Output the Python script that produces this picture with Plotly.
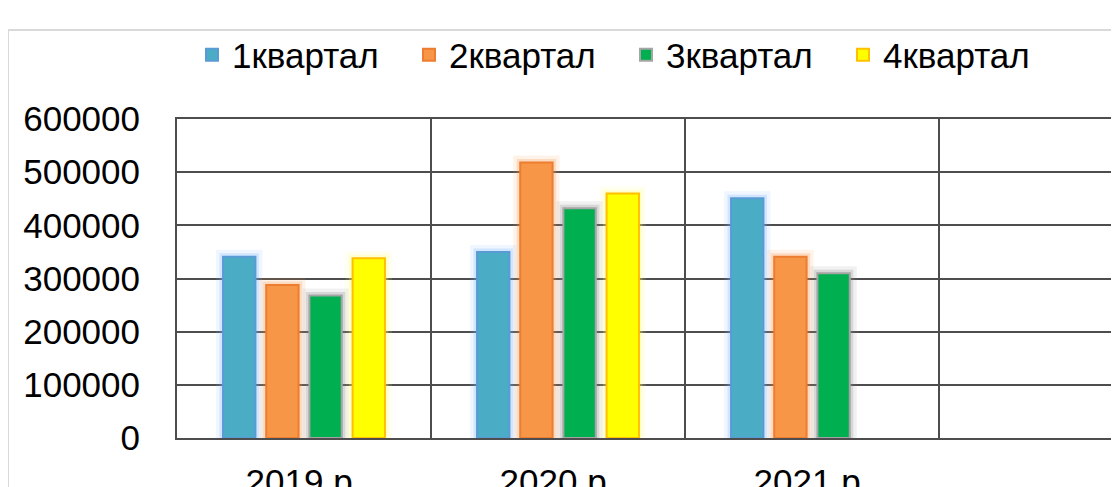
import plotly.graph_objects as go

years = ["2019 р.", "2020 р.", "2021 р.", " "]
q1 = [341000, 350000, 451000, None]
q2 = [288000, 518000, 341000, None]
q3 = [268000, 432000, 310000, None]
q4 = [338000, 460000, None, None]
names = ["1квартал", "2квартал", "3квартал", "4квартал"]

fills = ["#4BACC6", "#F79646", "#00B050", "#FFFF00"]
edges = ["#5B9BD5", "#ED7D31", "#A5A5A5", "#FFC000"]
glow_rgb = ["120,180,255", "247,150,70", "140,140,140", "255,255,120"]

grid_color = '#4D4D4D'
font_family = "Liberation Sans, Arial, sans-serif"

# the page body has an 8px margin, so work in page pixels and shift
OFF = 8
fig_w, fig_h = 1119 - OFF, 487 - OFF

fig = go.Figure()

# soft halo behind each bar (main subplot), two layers for a fade
for width, alpha in [(14, 0.12), (7, 0.25)]:
    for i, (vals, rgb) in enumerate(zip([q1, q2, q3, q4], glow_rgb)):
        fig.add_trace(go.Bar(
            x=years, y=vals, offsetgroup=str(i),
            marker=dict(color="rgba(0,0,0,0)",
                        line=dict(color=f"rgba({rgb},{alpha})", width=width)),
            showlegend=False, hoverinfo="skip",
            xaxis="x", yaxis="y"))

# the real bars on an overlaid axis so they sit above the halo
for i, (vals, name, fill, edge) in enumerate(zip([q1, q2, q3, q4], names, fills, edges)):
    fig.add_trace(go.Bar(
        x=years, y=vals, name=name, offsetgroup=str(i),
        marker=dict(color=fill, line=dict(color=edge, width=2)),
        xaxis="x2", yaxis="y"))

px_l, px_r, px_t, px_b = 177, 1119, 119, 438
w = px_r - px_l
h = px_b - px_t
x_hi = -0.5 + w / 254.0


def px_x(p):
    return (p - px_l) / w


def px_y(p):
    return (px_b - p) / h


fig.update_layout(
    width=fig_w, height=fig_h,
    template="none",
    margin=dict(l=px_l - OFF, r=1119 - px_r, t=px_t - OFF, b=487 - px_b),
    paper_bgcolor="white",
    plot_bgcolor="white",
    font=dict(family=font_family, size=35, color="black"),
    barmode="group",
    bargap=0.32,
    bargroupgap=0.25,
    legend=dict(orientation="h", x=px_x(192), xanchor="left",
                y=px_y(55), yanchor="middle", bgcolor="rgba(0,0,0,0)",
                font=dict(size=35), entrywidth=172, itemclick=False),
    xaxis=dict(
        categoryorder="array", categoryarray=years,
        range=[-0.5, x_hi], tickson="boundaries",
        showgrid=True, gridcolor=grid_color, gridwidth=2,
        showline=True, mirror=True, linecolor=grid_color, linewidth=2,
        ticks="", ticklabelstandoff=12, automargin=False,
        fixedrange=True),
    xaxis2=dict(
        overlaying="x", matches="x", visible=False,
        categoryorder="array", categoryarray=years),
    yaxis=dict(
        range=[0, 600000], dtick=100000, tickformat="d",
        showgrid=True, gridcolor=grid_color, gridwidth=2,
        zeroline=False, showline=True, linecolor=grid_color, linewidth=2,
        ticks="", ticklabelstandoff=28, automargin=False,
        fixedrange=True),
    shapes=[
        dict(type="line", xref="paper", yref="paper",
             x0=px_x(8), x1=px_x(1119), y0=px_y(30), y1=px_y(30),
             line=dict(color="#D9D9D9", width=2)),
        dict(type="line", xref="paper", yref="paper",
             x0=px_x(8), x1=px_x(8), y0=px_y(30), y1=px_y(487),
             line=dict(color="#D9D9D9", width=2)),
    ],
)

fig.write_html("out.html")
